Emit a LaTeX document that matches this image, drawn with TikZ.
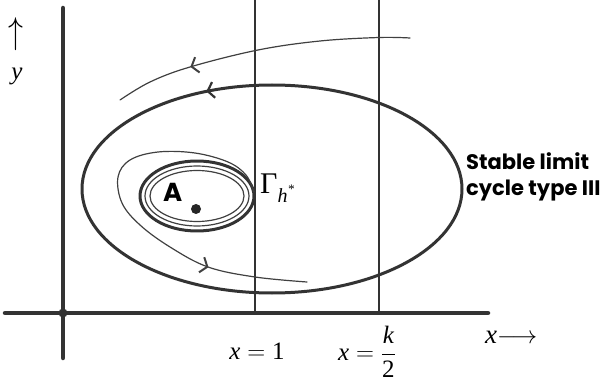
\documentclass[tikz,border=0pt]{standalone}
\usepackage{fontspec}
\setmainfont{Liberation Serif}
\newfontfamily\gothic{Poppins}
\usetikzlibrary{arrows.meta,decorations.markings}

\tikzset{
  axis/.style={line width=4.5pt, draw=black!80},
  gridline/.style={line width=2.2pt, draw=black!80},
  cycle/.style={line width=3pt, draw=black!80},
  orbit/.style={line width=1.2pt, draw=black!75},
  flowmark/.style={postaction={decorate}, decoration={markings,
      mark=at position #1 with {\arrow[line width=2pt]{Straight Barb[length=6pt,width=16pt]}}}},
  flowback/.style={postaction={decorate}, decoration={markings,
      mark=at position #1 with {\arrowreversed[line width=2.2pt]{Straight Barb[length=6pt,width=16pt]}}}},
  serif/.style={font=\fontsize{25}{27}\selectfont, inner sep=0pt},
  gothiclbl/.style={font=\gothic\bfseries\fontsize{21}{26}\selectfont, inner sep=0pt, align=left}
}

\begin{document}
\begin{tikzpicture}[x=1pt, y=-1pt, line cap=round, line join=round]
		% Bounding box of the whole picture
		\useasboundingbox (0,0) rectangle (603,385);
		
		% Lines x = 1 and x = k/2
		\draw[gridline] (255,0) -- (255,313);
		\draw[gridline] (379,0) -- (379,313);
		
		% Coordinate axes
		\draw[axis] (63,8) -- (63,358);
		\draw[axis] (5,313) -- (488,313);
		\fill[black!80] (63,313) circle (4.5);
		
		% Stable limit cycle (type III)
		\draw[cycle, flowback=0.68] (272,189) ellipse [x radius=190, y radius=104];
		
		% Inner cycles round the point A
		\draw[cycle] (197,196) ellipse [x radius=57, y radius=35];
		\draw[orbit] (197,196) ellipse [x radius=52, y radius=30];
		\draw[orbit] (197,196) ellipse [x radius=47, y radius=25.5];
		\fill[black!85] (196,209) circle (5);
		
		% Orbit spiralling out from Gamma_{h^*}
		\draw[orbit, flowmark=0.75] plot[smooth, tension=0.6] coordinates {
			(254,192) (246,175) (228,162) (195,153) (158,152) (130,160)
			(118,177) (122,203) (140,225) (170,247) (208,267) (255,277) (307,282)};
		
		% Orbit coming in from outside
		\draw[orbit, flowmark=0.74] plot[smooth, tension=0.6] coordinates {
			(410,38) (379,37.5) (320,41) (258,50) (190,67) (150,82) (120,100)};
		
		% Labels
		\node[serif, anchor=base] (ylbl) at (17,80) {\itshape y};
		\node[serif, anchor=center] (yarrow) at (16,34) {\scalebox{1.2}[1.5]{$\uparrow$}};
		\node[serif, anchor=base] (xone) at (257,359) {$\mbox{\itshape x}=\mbox{1}$};
		\node[serif, anchor=west] (xhalf) at (338,352) {$\mbox{\itshape x}=\displaystyle\frac{\mbox{\itshape k}}{\mbox{2}}$};
		\node[serif, font=\fontsize{27}{27}\selectfont, anchor=west] (xlbl) at (485,337) {{\itshape x}$\longrightarrow$};
		\node[gothiclbl, font=\gothic\bfseries\fontsize{26}{26}\selectfont, anchor=base west] (ptA) at (163,202) {A};
		\node[serif, anchor=base west] (gammalbl) at (260,194)
			{\fontsize{30}{30}\selectfont Γ\raisebox{-9pt}{\fontsize{20}{20}\selectfont\itshape h\raisebox{9pt}{\fontsize{13}{13}\selectfont *}}};
		\node[gothiclbl, anchor=west] (stablelbl) at (466,177) {Stable limit\\cycle type III};
	\end{tikzpicture}
\end{document}
